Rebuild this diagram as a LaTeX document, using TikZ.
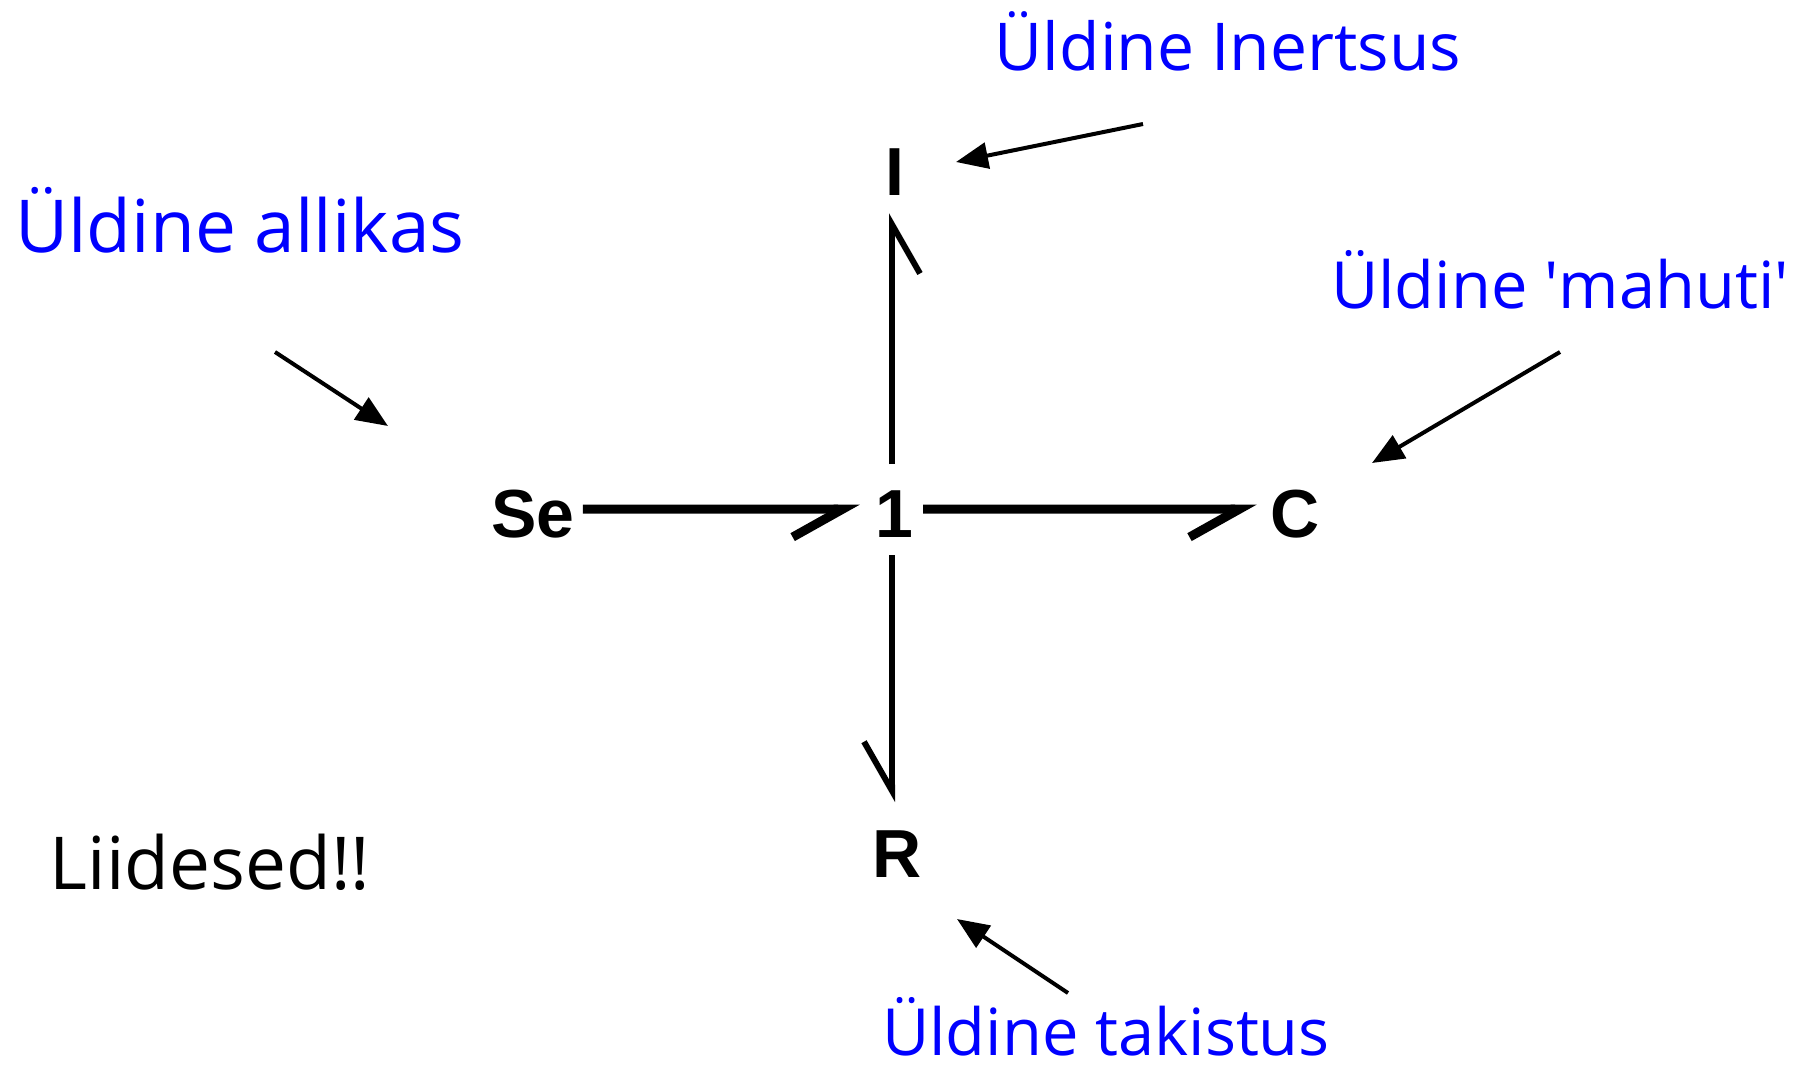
\documentclass[tikz,border=0pt]{standalone}
\usepackage{fontspec}
\setmainfont{Open Sans}
\newfontfamily\bondfont{Liberation Sans}
\usetikzlibrary{arrows.meta}
\begin{document}
\begin{tikzpicture}[x=1pt,y=-1pt,
  lbl/.style={text=blue, font=\fontsize{73}{80}\selectfont, inner sep=0pt, anchor=base},
  lbls/.style={lbl, font=\fontsize{#1}{80}\selectfont},
  bondlbl/.style={font=\bondfont\bfseries\fontsize{68}{72}\selectfont, inner sep=0pt, anchor=base},
  bondh/.style={line width=9pt, -{Straight Barb[harpoon,swap,length=50pt,width=56pt]}},
  bondv/.style={line width=6pt, -{Straight Barb[harpoon,swap,length=49pt,width=56pt]}},
  ann/.style={line width=4pt, -{Triangle[length=32pt,width=26pt]}}]
\useasboundingbox (0,0) rectangle (1797,1069);
% bond graph elements
\node[bondlbl] (Se) at (533,537) {Se};
\node[bondlbl] (one) at (894,537) {1};
\node[bondlbl] (C) at (1295,537) {C};
\node[bondlbl] (I) at (895,195) {I};
\node[bondlbl] (R) at (897,877) {R};
% bonds
\draw[bondh, shorten <=8pt, shorten >=15pt] ([yshift=4.5pt]Se.east) -- ([yshift=4.5pt]one.west);
\draw[bondh, shorten <=10pt, shorten >=13.5pt] ([yshift=4.5pt]one.east) -- ([yshift=4.5pt]C.west);
\draw[bondv, shorten <=26pt, shorten >=18pt] ([xshift=-2pt]one.north) -- ([xshift=-3pt]I.south);
\draw[bondv, shorten <=18pt, shorten >=28pt] ([xshift=-2pt]one.south) -- ([xshift=-5pt]R.north);
% annotations
\node[lbls=66] (tI) at (1228,70) {Üldine Inertsus};
\node[lbl] (tA) at (240,252) {Üldine allikas};
\node[lbls=65] (tM) at (1560,308) {Üldine \textquotesingle mahuti\textquotesingle};
\node[lbls=65] (tT) at (1106,1055) {Üldine takistus};
\node[lbl, text=black] (tL) at (210,889) {Liidesed!!};
\coordinate (aAs) at (275,352); \coordinate (aAe) at (388,426);
\coordinate (aIs) at (1143,124); \coordinate (aIe) at (956,162);
\coordinate (aMs) at (1560,352); \coordinate (aMe) at (1372,463);
\coordinate (aTs) at (1068,993); \coordinate (aTe) at (957,919);
\draw[ann] (aAs) -- (aAe);
\draw[ann] (aIs) -- (aIe);
\draw[ann] (aMs) -- (aMe);
\draw[ann] (aTs) -- (aTe);
\end{tikzpicture}
\end{document}
